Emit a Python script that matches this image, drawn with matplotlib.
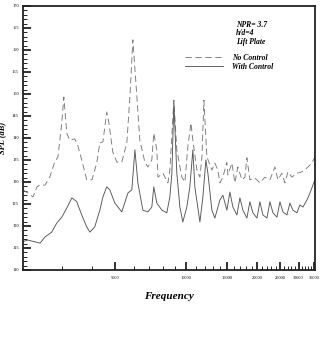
import matplotlib
matplotlib.use("Agg")
import matplotlib.pyplot as plt
from matplotlib.ticker import FixedLocator, FixedFormatter, MultipleLocator, NullFormatter

# No Control (dashed)
freq_no = [2040, 2140, 2250, 2340, 2410, 2530, 2650, 2780, 2870, 2980, 3040, 3130,
           3220, 3380, 3480, 3620, 3800, 4000, 4190, 4320, 4450, 4620, 4720, 4900,
           5100, 5350, 5620, 5790, 5960, 6200, 6380, 6700, 6900, 7170, 7310, 7530,
           7610, 7990, 8390, 8550, 8890, 9150, 9610, 9900, 10190, 10500, 10700, 11130,
           11460, 11690, 11920, 12270, 12880, 13260, 13650, 13930, 14340, 14910, 15060,
           15660, 16120, 16600, 17260, 17780, 18120, 18660, 19600, 20580, 21610, 22690,
           23820, 24520, 25500, 26270, 27040, 28120, 29520, 31000, 32550, 34170, 35190]
spl_no = [128.2, 127.5, 126.6, 128.9, 129.3, 129.3, 131.1, 134.5, 135.7, 143.4, 149.3, 141.1,
          139.5, 139.8, 138.4, 135.0, 130.5, 130.5, 134.3, 138.9, 139.1, 145.9, 143.4, 136.8,
          134.5, 134.5, 138.9, 149.3, 162.3, 149.3, 139.5, 134.5, 133.4, 135.0, 141.1, 137.3,
          131.1, 132.0, 129.8, 132.7, 148.6, 137.3, 131.1, 130.0, 138.0, 143.4, 139.5, 132.7,
          131.1, 135.7, 148.6, 135.7, 132.7, 134.3, 132.7, 129.8, 131.1, 134.5, 131.6,
          134.3, 129.8, 133.4, 130.5, 131.1, 135.5, 130.5, 130.9, 129.8, 131.1, 130.5,
          133.4, 130.5, 132.0, 129.8, 132.3, 131.1, 132.0, 132.3, 133.2, 134.3, 135.7]

# With Control (solid)
freq_with = [2020, 2140, 2290, 2410, 2530, 2700, 2840, 2980, 3130, 3290, 3450, 3620,
             3800, 3920, 4110, 4320, 4450, 4620, 4760, 5000, 5350, 5680, 5900, 6080,
             6260, 6570, 6900, 7170, 7310, 7530, 7910, 8300, 8550, 8720, 8890, 9150,
             9430, 9700, 10090, 10390, 10700, 10910, 11460, 11800, 12150, 12390, 12880,
             13260, 13930, 14340, 14910, 15360, 15810, 16440, 16930, 17430, 18120, 18660,
             19220, 19990, 20580, 21190, 22040, 22690, 23360, 24290, 25020, 25750, 26780,
             27570, 28390, 29520, 30400, 31300, 32550, 33530, 34510, 35190]
spl_with = [116.4, 116.8, 116.4, 116.1, 117.5, 118.6, 120.7, 122.0, 124.1, 126.4, 125.5, 122.5,
            119.8, 118.6, 119.8, 123.6, 126.6, 128.9, 128.2, 125.2, 123.2, 127.5, 128.2, 137.3,
            129.8, 123.6, 123.2, 124.3, 128.9, 125.2, 123.6, 123.0, 126.6, 132.0, 148.0, 132.0,
            124.3, 120.9, 124.3, 128.9, 137.3, 128.9, 120.9, 126.6, 135.0, 132.0, 123.6,
            121.8, 125.9, 127.0, 123.6, 127.7, 124.3, 122.5, 126.4, 123.6, 121.8, 125.5,
            123.0, 121.8, 125.5, 122.5, 121.8, 125.5, 123.0, 122.0, 125.5, 123.2, 122.5,
            125.2, 123.6, 123.0, 124.8, 124.3, 125.9, 127.5, 129.3, 130.5]

x_ticks = [5000, 10000, 15000, 20000, 25000, 30000, 35000]
x_labels = ["5000", "10000", "15000", "20000", "25000", "30000", "35000"]

serif = "Liberation Serif"

fig = plt.figure(figsize=(3.23, 3.52), dpi=100)
ax = fig.add_axes([0.071, 0.233, 0.904, 0.750])

ax.plot(freq_no, spl_no, color="#7a7a7a", lw=0.65, ls=(0, (7, 4)), label="No Control")
ax.plot(freq_with, spl_with, color="#555555", lw=0.65, label="With Control")

ax.set_xscale("log")
ax.set_xlim(2040, 35190)
ax.set_ylim(110, 170)

ax.xaxis.set_major_locator(FixedLocator(x_ticks))
ax.xaxis.set_major_formatter(FixedFormatter(x_labels))
ax.xaxis.set_minor_locator(FixedLocator([f for f in range(3000, 35000, 1000) if f % 5000]))
ax.xaxis.set_minor_formatter(NullFormatter())
ax.yaxis.set_major_locator(MultipleLocator(5))
ax.yaxis.set_minor_locator(MultipleLocator(1))

ax.tick_params(which="both", direction="in", labelsize=3.2, color="#222222")
ax.tick_params(which="major", length=6, width=1.3)
ax.tick_params(which="minor", length=3, width=0.7)
for lab in ax.get_xticklabels() + ax.get_yticklabels():
    lab.set_fontfamily(serif)
ax.tick_params(axis="x", pad=4)
ax.tick_params(axis="y", pad=3)

for s in ax.spines.values():
    s.set_linewidth(1.3)
    s.set_color("#222222")

ax.set_xlabel("Frequency", fontsize=8, fontfamily=serif, fontweight="bold",
              fontstyle="italic", labelpad=9)
ax.set_ylabel("SPL (dB)", fontsize=6, fontfamily=serif, fontweight="bold",
              fontstyle="italic", labelpad=4)

ax.text(0.73, 0.945, "NPR= 3.7\nh/d=4\nLift Plate", transform=ax.transAxes,
        fontsize=5.5, fontfamily=serif, fontweight="bold", fontstyle="italic",
        va="top", ha="left", linespacing=1.1)
ax.legend(loc="upper left", bbox_to_anchor=(0.53, 0.845), frameon=False,
          handlelength=5.0, handletextpad=1.2, labelspacing=0.15,
          prop={"family": serif, "weight": "bold", "style": "italic", "size": 5.5})

fig.savefig("out.png", dpi=100)
